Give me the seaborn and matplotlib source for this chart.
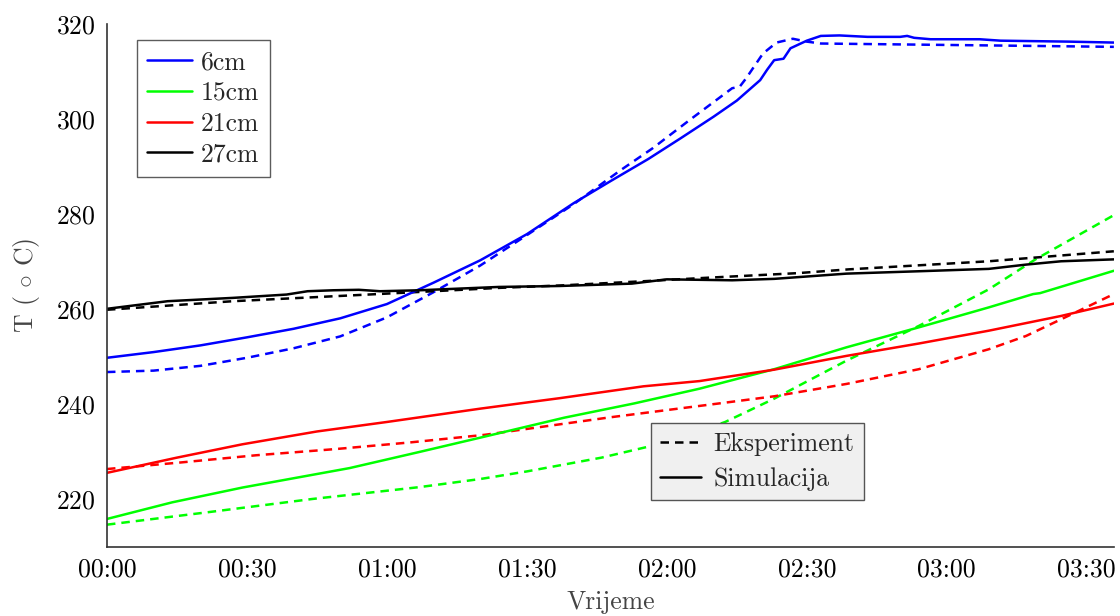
import matplotlib
matplotlib.use("Agg")
import matplotlib.pyplot as plt
import seaborn as sns
import pandas as pd
from matplotlib.lines import Line2D

# time in minutes from start, temperature in deg C
t_6_sim = [0, 10, 20, 30, 40, 50, 60, 70, 80, 90, 100, 108, 116, 123, 130, 135, 140, 141.5, 143, 145, 146.5,
           150, 153, 157, 163, 170, 171.5, 173, 176.5, 187, 191.5, 206, 215.8]
T_6_sim = [249.8, 251.0, 252.4, 254.1, 255.9, 258.1, 261.1, 265.6, 270.3, 275.8, 282.3, 287.0, 291.6, 296.0,
           300.5, 303.9, 308.2, 310.4, 312.4, 312.7, 314.9, 316.5, 317.5, 317.6, 317.3, 317.3, 317.5, 317.1,
           316.8, 316.8, 316.5, 316.3, 316.1]
t_6_exp = [0, 10, 20, 30, 40, 50, 60, 70, 80, 90, 100, 110, 117, 125, 134, 135.6, 137, 140.6, 143.5, 147, 150,
           153, 215.8]
T_6_exp = [246.8, 247.1, 248.1, 249.8, 251.8, 254.3, 258.3, 263.6, 269.2, 275.6, 282.1, 289.2, 293.9, 299.9,
           306.5, 306.8, 308.6, 313.8, 316.1, 316.9, 316.3, 315.9, 315.2]

t_15_sim = [0, 14, 29, 52, 67, 80, 89, 98, 113, 127, 143, 158.5, 174, 189, 198.5, 200, 215.8]
T_15_sim = [215.9, 219.4, 222.5, 226.6, 230.0, 233.0, 235.1, 237.2, 240.2, 243.3, 247.4, 252.0, 256.2, 260.4,
            263.2, 263.4, 268.1]
t_15_exp = [0, 21.5, 44, 67, 80, 90, 106, 116, 120, 132.5, 143, 158.5, 174, 189, 199, 215.8]
T_15_exp = [214.7, 217.3, 220.1, 222.6, 224.3, 225.9, 228.8, 231.1, 231.9, 236.3, 241.2, 249.2, 256.5, 264.2,
            270.5, 279.8]

t_21_sim = [0, 15, 29, 45, 60, 80, 90, 97, 115, 127, 143, 158.5, 174, 189, 204.5, 215.8]
T_21_sim = [225.6, 228.8, 231.6, 234.3, 236.3, 239.1, 240.4, 241.3, 243.8, 244.9, 247.3, 250.2, 252.8, 255.5,
            258.6, 261.2]
t_21_exp = [0, 16, 32, 49, 65, 81, 97, 108, 120, 132, 143, 158.5, 174, 189, 197, 206, 215.8]
T_21_exp = [226.4, 227.8, 229.3, 230.6, 232.0, 233.6, 235.8, 237.3, 238.8, 240.3, 241.7, 244.3, 247.4, 251.6,
            254.4, 258.6, 263.2]

t_27_sim = [0, 13, 27, 38.5, 43, 48.5, 54, 58.5, 67, 84, 97, 112.5, 120, 134, 143, 158.5, 174, 189, 197, 204.5, 215.8]
T_27_sim = [260.1, 261.7, 262.4, 263.1, 263.8, 264.0, 264.1, 263.8, 264.0, 264.7, 264.9, 265.4, 266.3, 266.1,
            266.4, 267.5, 268.0, 268.5, 269.4, 270.1, 270.5]
t_27_exp = [0, 27, 56, 84, 97, 115, 128, 148, 159, 189, 215.8]
T_27_exp = [259.9, 261.7, 263.1, 264.5, 265.0, 265.9, 266.6, 267.6, 268.4, 270.1, 272.2]

depths = ["6cm", "15cm", "21cm", "27cm"]
colors = ["#0000ff", "#00ff00", "#ff0000", "#000000"]
sim_data = [(t_6_sim, T_6_sim), (t_15_sim, T_15_sim), (t_21_sim, T_21_sim), (t_27_sim, T_27_sim)]
exp_data = [(t_6_exp, T_6_exp), (t_15_exp, T_15_exp), (t_21_exp, T_21_exp), (t_27_exp, T_27_exp)]

x_ticks = [0, 30, 60, 90, 120, 150, 180, 210]
x_labels = ["00:00", "00:30", "01:00", "01:30", "02:00", "02:30", "03:00", "03:30"]
y_ticks = [220, 240, 260, 280, 300, 320]

sns.set_style("white")
plt.rcParams["font.family"] = ["cmr10", "DejaVu Serif"]
plt.rcParams["mathtext.fontset"] = "cm"
plt.rcParams["axes.formatter.use_mathtext"] = True

fs = 18.5
fig = plt.figure(figsize=(11.2, 6.16), dpi=100)
ax = fig.add_axes([0.0955, 0.112, 0.899, 0.849])

lw = 1.8
dash = (3.4, 2.4)
for (t, T), c in zip(exp_data, colors):
    sns.lineplot(x=t, y=T, ax=ax, color=c, lw=lw, linestyle=(0, dash),
                 estimator=None, sort=False)
for (t, T), c in zip(sim_data, colors):
    sns.lineplot(x=t, y=T, ax=ax, color=c, lw=lw, estimator=None, sort=False)

ax.set_xlim(0, 215.8)
ax.set_ylim(210, 320)
ax.set_xticks(x_ticks)
ax.set_xticklabels(x_labels)
ax.set_yticks(y_ticks)
ax.tick_params(axis="both", direction="in", length=8, width=1, color="#aaaaaa",
               labelsize=fs, labelcolor="black", pad=8)
for s in ["top", "right"]:
    ax.spines[s].set_visible(False)
for s in ["left", "bottom"]:
    ax.spines[s].set_color("#333333")
    ax.spines[s].set_linewidth(1.2)

ax.set_xlabel("Vrijeme", fontsize=fs, color="#444444", labelpad=6)
ax.set_ylabel(r"T ( $\circ$ C)", fontsize=fs, color="#444444", labelpad=10)

h1 = [Line2D([], [], color=c, lw=lw) for c in colors]
leg1 = ax.legend(h1, depths, loc="upper left", bbox_to_anchor=(0.0298, 0.969), fontsize=fs,
                 fancybox=False, frameon=True, handlelength=1.75, handletextpad=0.35,
                 labelspacing=0.27, borderpad=0.4, borderaxespad=0)
leg1.get_frame().set_edgecolor("#333333")
leg1.get_frame().set_linewidth(1.0)
ax.add_artist(leg1)

h2 = [Line2D([], [], color="black", lw=lw, linestyle=(0, dash)),
      Line2D([], [], color="black", lw=lw)]
leg2 = ax.legend(h2, ["Eksperiment", "Simulacija"], loc="upper left", bbox_to_anchor=(0.540, 0.237),
                 fontsize=fs, fancybox=False, frameon=True, handlelength=1.6, handletextpad=0.5,
                 labelspacing=0.45, borderpad=0.35, borderaxespad=0)
leg2.get_frame().set_facecolor("#f0f0f0")
leg2.get_frame().set_edgecolor("#555555")
leg2.get_frame().set_linewidth(1.0)
leg2.get_frame().set_alpha(1)

fig.savefig("out.png", dpi=100)
